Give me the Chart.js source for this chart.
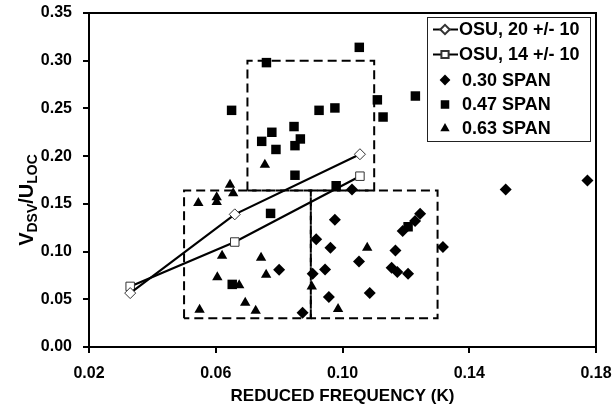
<!DOCTYPE html>
<html>
<head>
<meta charset="utf-8">
<script src="https://cdn.jsdelivr.net/npm/chart.js@4/dist/chart.umd.min.js"></script>
<style>
  html, body { margin: 0; padding: 0; background: #fff; }
  #wrap { width: 612px; height: 412px; }
</style>
</head>
<body>
<div id="wrap"><canvas id="c1"></canvas></div>
<script>
"use strict";

// OSU curves (open markers joined by lines)
let osuK = [0.033, 0.066, 0.1055];
let osu20 = [0.0565, 0.139, 0.202];
let osu14 = [0.0635, 0.110, 0.179];

// 0.30 span - diamonds
let k30 = [0.0874, 0.0906, 0.0917, 0.0945, 0.0957, 0.0962, 0.0976, 0.103, 0.1052, 0.1086,
           0.1155, 0.1167, 0.1173, 0.1207, 0.119, 0.1229, 0.1245, 0.1317, 0.1515, 0.1773, 0.080];
let v30 = [0.036, 0.0768, 0.1128, 0.0813, 0.0523, 0.104, 0.1334, 0.165, 0.0897, 0.0565,
           0.083, 0.101, 0.0785, 0.0768, 0.1215, 0.132, 0.1397, 0.1047, 0.165, 0.1746, 0.081];

// 0.47 span - squares
let k47 = [0.065, 0.076, 0.0745, 0.0777, 0.079, 0.1053, 0.123, 0.111, 0.1128, 0.0926,
           0.0976, 0.0847, 0.0867, 0.085, 0.085, 0.0773, 0.098, 0.1207, 0.0652];
let v47 = [0.248, 0.298, 0.2155, 0.225, 0.207, 0.314, 0.263, 0.259, 0.241, 0.248,
           0.2505, 0.231, 0.218, 0.211, 0.18, 0.140, 0.169, 0.126, 0.0656];

// 0.63 span - triangles
let k63 = [0.0755, 0.0545, 0.0603, 0.0603, 0.0645, 0.0655, 0.062, 0.0743, 0.0759, 0.0605,
           0.0674, 0.0693, 0.0549, 0.0726, 0.1078, 0.0903, 0.0986];
let v63 = [0.191, 0.151, 0.157, 0.152, 0.170, 0.161, 0.0957, 0.0936, 0.0758, 0.073,
           0.0646, 0.0464, 0.039, 0.038, 0.104, 0.0635, 0.0397];

// dashed boxes: [left, right, bottom, top]
let boxLeft = [0.07, 0.05, 0.09];
let boxRight = [0.11, 0.09, 0.13];
let boxBottom = [0.164, 0.03, 0.03];
let boxTop = [0.30, 0.164, 0.164];

let xTicks = [0.02, 0.06, 0.10, 0.14, 0.18];
let yTicks = [0.00, 0.05, 0.10, 0.15, 0.20, 0.25, 0.30, 0.35];

let FONT = '"Liberation Sans", Arial, sans-serif';

function pts(xs, ys) {
    return xs.map((x, i) => ({x: x, y: ys[i]}));
}

function boxPts(i) {
    let l = boxLeft[i], r = boxRight[i], b = boxBottom[i], t = boxTop[i];
    return [{x: l, y: b}, {x: l, y: t}, {x: r, y: t}, {x: r, y: b}, {x: l, y: b}];
}

let datasets = [];

// the two OSU lines
datasets.push({
    label: 'OSU, 20 +/- 10', data: pts(osuK, osu20), showLine: true,
    borderColor: '#000', borderWidth: 2.2,
    pointStyle: 'rectRot', pointRadius: 5.5, pointBorderWidth: 1,
    pointBackgroundColor: '#fff', pointBorderColor: '#333', order: 1,
    legend: 'line'
});
datasets.push({
    label: 'OSU, 14 +/- 10', data: pts(osuK, osu14), showLine: true,
    borderColor: '#000', borderWidth: 2.2,
    pointStyle: 'rect', pointRadius: 6, pointBorderWidth: 1,
    pointBackgroundColor: '#fff', pointBorderColor: '#333', order: 1,
    legend: 'line'
});
datasets.push({
    label: '0.30 SPAN', data: pts(k30, v30), showLine: false,
    pointStyle: 'rectRot', pointRadius: 6, pointBorderWidth: 0,
    pointBackgroundColor: '#000', pointBorderColor: '#000', order: 3,
    legend: 'point'
});
datasets.push({
    label: '0.47 SPAN', data: pts(k47, v47), showLine: false,
    pointStyle: 'rect', pointRadius: 6.7, pointBorderWidth: 0,
    pointBackgroundColor: '#000', pointBorderColor: '#000', order: 2,
    legend: 'point'
});
datasets.push({
    label: '0.63 SPAN', data: pts(k63, v63), showLine: false,
    pointStyle: 'triangle', pointRadius: 6, pointBorderWidth: 0,
    pointBackgroundColor: '#000', pointBorderColor: '#000', order: 2,
    legend: 'point'
});

// dashed boxes
for (let i = 0; i < boxLeft.length; i++) {
    datasets.push({
        label: 'box' + i, data: boxPts(i), showLine: true,
        borderColor: '#000', borderWidth: 2, borderDash: [9, 5],
        pointRadius: 0, order: 5
    });
}

// black frame round the plot area
let frame = {
    id: 'frame',
    beforeDatasetsDraw(chart) {
        let a = chart.chartArea;
        let ctx = chart.ctx;
        ctx.save();
        ctx.strokeStyle = '#000';
        ctx.lineWidth = 2;
        ctx.strokeRect(a.left, a.top, a.right - a.left, a.bottom - a.top);
        ctx.restore();
    }
};

// y title with subscripts
let yTitle = {
    id: 'yTitle',
    afterDraw(chart) {
        let ctx = chart.ctx;
        let parts = [['V', 0], ['DSV', 1], ['/U', 0], ['LOC', 1]];
        let big = 'bold 20px ' + FONT;
        let small = 'bold 14px ' + FONT;
        ctx.save();
        let w = 0;
        parts.forEach(p => { ctx.font = p[1] ? small : big; w += ctx.measureText(p[0]).width; });
        ctx.translate(26, 200);
        ctx.rotate(-Math.PI / 2);
        ctx.fillStyle = '#000';
        ctx.textBaseline = 'alphabetic';
        ctx.textAlign = 'left';
        let x = -w / 2;
        parts.forEach(p => {
            ctx.font = p[1] ? small : big;
            ctx.fillText(p[0], x, p[1] ? 11 : 7);
            x += ctx.measureText(p[0]).width;
        });
        ctx.restore();
    }
};

// boxed legend inside the plot
let boxLegend = {
    id: 'boxLegend',
    afterDraw(chart) {
        let ctx = chart.ctx;
        let items = chart.data.datasets.filter(d => d.legend);
        ctx.save();
        ctx.fillStyle = '#fff';
        ctx.fillRect(427, 17, 163, 124);
        ctx.strokeStyle = '#222';
        ctx.lineWidth = 1;
        ctx.strokeRect(427.5, 17.5, 163, 124);
        let rowY = [29.5, 54.5, 80, 104.5, 128.5];
        items.forEach((d, i) => {
            let y = rowY[i];
            let mx = 445;
            if (d.legend === 'line') {
                ctx.strokeStyle = '#000';
                ctx.lineWidth = 2;
                ctx.setLineDash([]);
                ctx.beginPath();
                ctx.moveTo(433, y);
                ctx.lineTo(458, y);
                ctx.stroke();
            }
            ctx.fillStyle = d.pointBackgroundColor;
            ctx.strokeStyle = d.pointBorderColor;
            Chart.helpers.drawPoint(ctx, {
                pointStyle: d.pointStyle,
                radius: d.legend === 'line' ? d.pointRadius * 0.85 : d.pointRadius * 0.9,
                borderWidth: d.pointBorderWidth,
                rotation: 0
            }, mx, y);
            ctx.fillStyle = '#000';
            ctx.font = 'bold 18px ' + FONT;
            ctx.textBaseline = 'middle';
            ctx.textAlign = 'left';
            ctx.fillText(d.label, d.legend === 'line' ? 459 : 462, y + 1);
        });
        ctx.restore();
    }
};

let opts = {
    type: 'scatter',
    data: { datasets: datasets },
    options: {
        responsive: true,
        maintainAspectRatio: false,
        animation: false,
        devicePixelRatio: 1,
        layout: { padding: { top: 13, right: 16, left: 0, bottom: 0 } },
        plugins: {
            legend: { display: false },
            tooltip: { enabled: false }
        },
        scales: {
            x: {
                type: 'linear', min: 0.02, max: 0.18,
                afterBuildTicks: s => { s.ticks = xTicks.map(v => ({value: v})); },
                afterFit: s => { s.height = 65; s.paddingLeft = 0; s.paddingRight = 0; },
                ticks: {
                    callback: v => v.toFixed(2), color: '#000', padding: 11,
                    maxRotation: 0, autoSkip: false,
                    font: { family: FONT, size: 16, weight: 'bold' }
                },
                grid: { drawOnChartArea: false, drawTicks: true, tickLength: 6, color: '#000', lineWidth: 2 },
                border: { display: true, color: '#000', width: 2 },
                title: {
                    display: true, text: 'REDUCED FREQUENCY (K)', color: '#000',
                    padding: { top: 0, bottom: 5 },
                    font: { family: FONT, size: 17, weight: 'bold' }
                }
            },
            y: {
                type: 'linear', min: 0, max: 0.35,
                afterBuildTicks: s => { s.ticks = yTicks.map(v => ({value: v})); },
                afterFit: s => { s.width = 89; s.paddingTop = 0; s.paddingBottom = 0; },
                ticks: {
                    callback: v => v.toFixed(2), color: '#000', padding: 11,
                    autoSkip: false,
                    font: { family: FONT, size: 16, weight: 'bold' }
                },
                grid: { drawOnChartArea: false, drawTicks: true, tickLength: 6, color: '#000', lineWidth: 2 },
                border: { display: true, color: '#000', width: 2 }
            }
        }
    },
    plugins: [frame, yTitle, boxLegend]
};

let chart1 = new Chart(document.querySelector('#c1'), opts);
</script>
</body>
</html>
